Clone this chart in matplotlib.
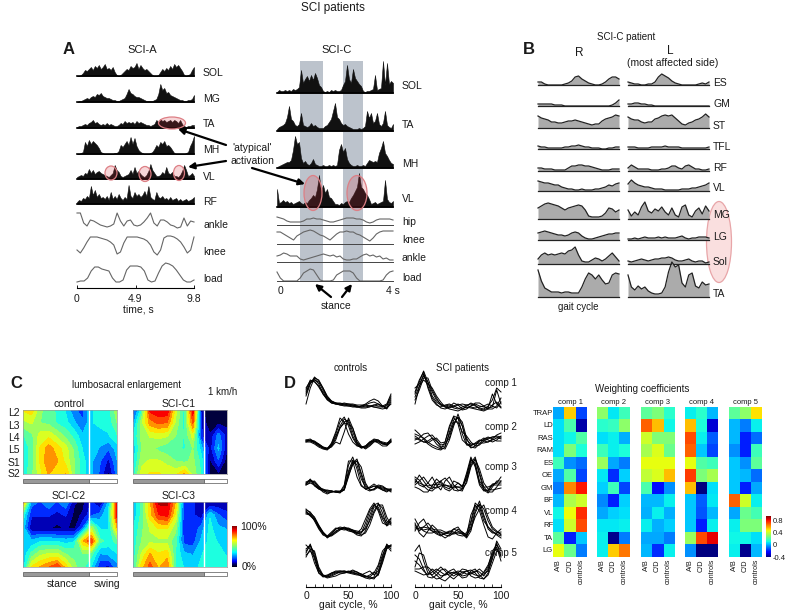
import numpy as np
import matplotlib
matplotlib.use("Agg")
import matplotlib.pyplot as plt
from matplotlib.patches import Ellipse, Rectangle
from matplotlib.cm import ScalarMappable
from matplotlib.colors import Normalize, LinearSegmentedColormap

plt.rcParams['font.family'] = ['Liberation Sans', 'DejaVu Sans']

W, H = 787, 615

# panel A, SCI-A (amplitudes in arbitrary units)
a_sol = [0,0,1,3,6,5,7,9,6,10,8,11,7,9,12,7,8,6,9,4,1,0,1,3,5,7,6,10,8,9,13,7,11,8,6,7,5,3,1,0,0,1,4,7,5,8,6,10,7,12,9,11,8,5,1,0,1,2,6,9]
a_mg = [0,1,1,2,3,4,3,5,6,5,8,7,9,6,5,4,4,3,2,2,1,1,2,3,4,8,13,9,8,6,5,5,4,3,2,1,1,1,1,2,3,8,18,12,14,9,10,7,6,5,4,3,2,2,1,1,2,2,3,7]
a_ta = [1,2,2,3,4,3,5,6,8,5,6,4,3,4,3,5,3,4,3,2,2,3,5,4,7,5,6,5,6,4,7,5,6,5,4,3,3,2,3,4,8,6,9,7,8,6,7,8,6,8,7,5,8,4,2,1,2,2,3,3]
a_mh = [0,0,1,2,12,8,14,10,13,11,9,6,2,1,0,0,0,0,0,1,1,3,9,7,10,13,9,17,10,16,8,4,2,1,0,0,0,1,2,5,9,7,12,10,13,8,9,7,4,1,0,0,0,0,0,1,2,8,12,18]
a_vl = [2,3,4,3,6,5,10,6,9,5,7,8,6,5,4,3,2,4,6,14,9,7,3,2,3,4,5,9,5,12,6,8,5,3,2,4,8,15,9,6,3,3,4,7,5,12,6,5,7,3,3,2,4,8,14,9,3,4,6,3]
a_rf = [2,4,3,6,5,8,6,18,9,14,7,10,6,7,5,8,4,12,5,8,5,10,6,4,7,5,19,8,6,12,8,10,7,9,13,8,18,7,5,4,12,7,6,8,5,6,4,7,4,5,6,3,5,3,4,5,3,4,5,7]
a_ankle = [20,20,10,7,13,12,10,8,7,6,7,9,20,12,7,12,13,8,7,8,11,15,20,10,7,13,13,11,8,7,5,6,15,7,12,11]
a_knee = [5,2,7,13,18,18,18,17,16,15,13,10,1,3,12,18,18,18,18,17,16,14,10,3,0,5,17,19,19,18,16,13,8,2,5,18]
a_load = [1,2,2,5,12,16,16,14,13,12,5,1,1,3,13,17,17,17,16,12,3,1,2,10,17,20,19,17,13,8,3,1,1,3]

# panel A, SCI-C
c_sol = [1,3,2,2,3,2,3,2,4,3,4,6,23,10,14,17,12,18,13,20,15,8,6,2,1,2,1,3,2,3,2,2,3,8,12,28,14,10,24,15,12,9,7,2,1,2,2,3,4,18,3,4,5,32,8,30,9,12,10]
c_ta = [2,4,5,6,8,14,25,12,10,6,5,7,18,6,5,4,5,8,5,6,4,3,3,3,5,6,9,12,20,28,14,12,8,6,7,5,4,3,2,2,2,3,2,3,5,20,13,18,8,10,18,7,5,8,20,6,4,3,7]
c_mh = [1,2,3,4,5,6,6,8,18,32,24,26,10,5,7,4,3,5,9,4,3,2,2,3,2,2,3,2,3,2,3,18,24,16,20,9,5,3,2,2,3,2,2,3,2,5,8,7,6,7,6,15,20,27,15,12,8,5,4]
c_vl = [18,4,5,7,5,6,4,5,3,4,5,6,4,3,5,4,7,9,12,10,18,32,15,22,14,18,10,9,6,3,3,2,4,3,5,6,5,9,12,16,20,34,20,18,14,12,8,3,4,5,3,4,5,6,27,8,5,4,6]
c_hip = [8,7,6,4,3,3,3,3,4,6,6,7,6,6,5,4,3,3,4,5,6,7,7,7,6,6,5,3,2,3,5,6,6,6,6,5]
c_knee = [12,12,10,8,6,4,8,10,12,13,14,13,11,9,8,6,4,7,10,12,12,13,12,12,10,9,7,5,3,6,10,12,13,13,13,13]
c_ankle = [6,7,9,8,6,6,6,3,2,3,4,5,6,7,8,7,6,7,5,6,3,2,2,3,3,5,7,8,6,7,5,6,3,4,2,2]
c_load = [9,3,0,0,0,0,0,3,8,10,12,11,6,1,0,0,0,1,6,8,10,10,10,8,3,0,0,0,0,0,0,0,1,6,9,10]

# panel B, R then L
b_names = ['ES', 'GM', 'ST', 'TFL', 'RF', 'VL', 'MG', 'LG', 'Sol', 'TA']
b_r = {
    'ES': [3,3,1,0,0,0,0,0,1,2,4,8,9,6,4,2,1,0,0,1,3,6,8,8,6],
    'GM': [2,2,2,2,2,1,1,1,0,0,0,0,0,0,0,0,0,0,0,0,0,0,1,3,6],
    'ST': [12,10,9,8,6,6,5,5,6,7,7,8,7,6,5,4,3,4,4,7,9,10,11,13,12],
    'TFL': [3,2,2,1,1,1,1,1,2,2,3,3,4,3,2,2,1,1,1,0,0,1,1,2,2],
    'RF': [3,3,2,2,2,1,1,1,1,3,5,5,6,6,5,5,4,3,2,1,1,1,2,2,2],
    'VL': [10,9,8,8,7,6,6,4,3,2,2,1,1,2,1,1,1,2,2,3,4,6,5,7,8],
    'MG': [11,13,15,16,15,14,13,11,9,11,12,13,14,13,9,3,2,2,2,3,6,11,10,7,9],
    'LG': [7,8,9,8,7,6,5,5,4,5,7,8,7,4,2,1,1,2,3,4,5,6,6,7,7],
    'Sol': [5,9,11,9,10,9,10,11,10,13,14,17,9,3,2,2,4,6,5,3,5,8,11,7,3],
    'TA': [27,16,9,7,5,5,5,4,5,5,4,4,4,10,18,24,22,18,22,17,13,14,22,24,23],
}
b_l = {
    'ES': [3,2,1,1,0,0,1,1,3,8,11,9,7,4,2,1,0,0,0,0,0,1,2,1,3],
    'GM': [2,2,3,3,2,2,1,1,0,0,0,0,0,0,0,0,0,0,0,0,0,0,0,0,0],
    'ST': [11,9,8,8,6,5,6,6,9,10,12,13,12,13,10,7,4,3,5,6,8,9,11,14,11],
    'TFL': [2,2,2,1,1,1,1,2,2,2,2,3,2,2,2,2,1,1,1,1,1,1,1,1,2],
    'RF': [3,6,4,2,2,2,2,1,1,1,2,2,3,5,5,3,2,5,6,4,2,2,1,1,2],
    'VL': [7,11,8,6,5,4,4,3,2,2,2,1,1,1,1,1,2,2,2,3,3,4,5,6,8],
    'MG': [9,3,7,4,12,17,8,6,10,8,12,7,4,11,4,2,12,14,4,2,8,11,5,13,8],
    'LG': [1,1,2,1,2,3,2,2,2,3,2,3,2,2,2,3,4,2,1,2,2,3,3,3,2],
    'Sol': [3,2,3,4,5,4,3,4,5,5,6,6,7,6,4,3,3,4,5,3,2,3,3,1,2],
    'TA': [22,10,7,11,8,10,6,4,3,3,4,10,25,35,30,32,14,10,22,24,11,9,15,12,13],
}
b_base = [85, 106, 128, 149, 171, 191, 219, 240, 264, 297]

# panel C, rows L2..S2
lumbo_rows = ['L2', 'L3', 'L4', 'L5', 'S1', 'S2']
c_control = [[65,68,52,45,42,35,22,20,35,38,40,55],
             [55,58,50,48,42,38,30,22,35,38,38,50],
             [42,48,60,62,55,48,40,30,33,32,35,42],
             [38,45,65,75,68,60,48,35,32,28,22,32],
             [38,45,65,78,72,62,50,38,30,22,12,28],
             [38,48,62,72,65,72,50,38,30,20,5,25]]
c_sci1 = [[15,40,88,92,92,60,40,90,10,0,0,0],
          [25,55,75,80,78,55,40,80,15,0,5,5],
          [35,52,58,60,58,50,42,60,15,8,25,10],
          [30,50,52,48,45,45,42,50,32,10,30,8],
          [32,55,58,58,55,50,48,52,40,5,20,2],
          [38,60,65,65,62,62,72,55,42,3,5,3]]
c_sci2 = [[75,25,20,28,20,28,8,5,15,5,30,92],
          [40,15,15,15,12,15,5,8,20,25,35,90],
          [32,8,8,8,5,8,5,22,55,35,35,70],
          [32,30,35,35,35,32,35,70,85,45,40,45],
          [30,45,55,58,58,50,48,50,45,28,30,35],
          [30,65,72,78,85,68,52,45,35,15,12,25]]
c_sci3 = [[30,45,70,95,95,70,15,15,10,5,8,12],
          [30,45,68,85,88,62,15,15,10,35,22,15],
          [35,48,58,65,65,52,15,15,25,38,30,28],
          [38,50,55,55,55,45,18,18,30,38,35,32],
          [38,58,72,65,68,42,30,28,35,40,38,35],
          [38,68,82,70,78,42,35,32,38,40,40,38]]

# panel D, 0-100 % gait cycle in 5 % steps
d_ctrl_1 = [[18,30,33,28,18,12,9,8,7,7,6,6,5,6,7,9,10,8,5,6,14],
            [22,32,30,26,20,13,9,8,8,8,7,6,5,4,4,5,7,8,6,3,10],
            [8,24,34,32,24,15,10,8,8,7,7,7,6,5,6,6,5,4,3,4,12],
            [20,29,32,30,22,14,11,9,8,9,8,8,7,7,7,6,5,5,5,7,16],
            [16,28,35,31,24,16,11,9,7,6,6,5,5,6,8,11,13,11,6,4,8],
            [24,31,31,25,18,13,10,9,9,8,8,7,6,5,5,6,7,6,6,8,18]]
d_ctrl_2 = [[11,11,10,7,4,3,8,18,30,35,26,14,7,4,5,9,12,11,8,7,12],
            [10,12,10,8,5,3,5,10,8,20,34,24,10,5,6,10,13,12,9,8,11],
            [12,11,9,6,4,3,6,14,26,33,30,16,8,4,5,8,12,12,9,7,10],
            [11,12,11,8,5,4,7,16,24,30,32,20,9,5,4,7,11,10,8,8,13],
            [10,10,8,5,3,2,6,12,24,29,28,24,12,6,3,6,10,11,10,9,11],
            [12,13,10,7,4,3,9,20,34,30,18,10,6,5,6,10,11,9,6,6,10]]
d_ctrl_3 = [[11,16,10,6,4,3,3,3,3,8,30,38,26,10,6,7,9,7,5,4,5],
            [12,14,12,8,5,4,4,3,3,5,18,32,36,22,10,5,6,9,8,6,6],
            [10,13,14,9,5,2,3,4,4,6,24,35,30,16,8,7,9,8,6,5,4],
            [13,15,9,6,5,5,4,3,2,6,22,33,34,20,6,4,6,10,9,6,3],
            [11,15,13,7,3,1,3,4,3,10,34,34,18,9,6,8,11,8,5,3,6],
            [10,12,10,7,6,4,4,3,3,5,20,30,34,28,12,5,5,8,7,6,5]]
d_ctrl_4 = [[30,26,22,14,8,4,8,12,13,12,10,9,8,12,22,32,38,30,18,16,22],
            [28,27,20,12,6,4,7,12,14,13,12,10,9,8,14,26,36,38,28,16,20],
            [32,28,24,16,9,3,6,10,12,14,12,10,7,8,18,30,36,32,22,15,18],
            [29,25,21,13,7,5,9,13,12,11,12,11,10,9,12,20,30,37,33,20,18],
            [31,29,23,15,8,4,6,9,12,13,11,9,6,5,10,22,34,34,24,18,23],
            [27,26,22,15,9,5,5,8,11,13,13,11,8,6,8,16,28,36,36,24,16]]
d_ctrl_5 = [[28,37,25,10,5,4,6,8,9,10,9,8,7,5,3,2,4,14,26,36,34],
            [24,32,30,14,6,4,5,7,9,9,10,9,7,5,4,6,9,6,20,34,36],
            [36,32,18,8,5,6,8,10,10,9,8,7,6,6,8,10,6,10,24,37,32],
            [30,35,28,12,5,3,4,5,7,8,9,10,9,7,5,3,2,8,22,33,35],
            [26,30,24,11,6,5,7,9,10,10,9,8,8,7,5,4,8,16,30,35,30],
            [32,36,22,8,4,5,8,9,8,8,9,11,9,6,4,4,3,6,18,32,36]]
d_sci_1 = [[18,30,41,30,16,10,7,5,4,6,8,6,4,6,8,6,5,4,5,22,8],
           [8,25,38,26,14,8,4,3,5,9,7,3,6,9,7,3,2,4,18,8,4],
           [24,28,36,30,20,12,8,6,5,5,7,8,7,5,4,5,6,8,6,4,10],
           [12,22,34,34,22,14,7,6,7,4,3,5,7,8,6,4,3,6,12,24,20],
           [20,32,40,24,12,7,5,7,8,6,4,2,3,6,9,9,6,3,3,6,14],
           [15,26,32,28,24,16,10,5,3,2,1,3,5,4,3,2,1,3,7,10,5]]
d_sci_2 = [[14,12,10,9,12,14,9,10,24,35,28,12,8,7,8,11,12,14,15,16,15],
           [18,16,14,10,7,5,3,10,26,36,34,18,7,6,9,12,11,10,12,14,14],
           [8,10,13,16,17,12,5,6,18,28,35,30,14,5,4,8,13,15,13,11,11],
           [22,18,13,8,5,3,2,5,20,32,34,26,12,8,8,9,9,10,13,17,19],
           [12,14,18,19,14,8,4,3,12,26,38,26,9,4,6,11,14,12,10,12,16],
           [16,13,10,11,14,11,7,8,14,30,30,20,16,10,6,7,11,13,15,15,13]]
d_sci_3 = [[12,20,14,8,6,12,14,8,6,14,12,8,18,36,30,12,6,4,10,12,18],
           [16,10,8,12,18,10,5,14,18,10,5,4,14,30,36,20,5,2,8,14,14],
           [10,14,18,12,8,7,9,10,8,7,8,6,20,35,32,14,8,8,10,10,10],
           [8,6,3,3,9,16,12,6,4,8,12,9,16,32,38,22,8,3,3,8,14],
           [14,12,10,9,10,11,10,10,9,9,8,8,22,38,28,10,4,5,11,12,12],
           [18,15,9,5,4,8,14,17,12,5,4,6,12,28,36,26,12,6,5,6,7]]
d_sci_4 = [[16,10,14,18,13,8,6,7,9,12,10,7,8,20,38,34,20,14,10,6,3],
           [22,14,10,8,8,10,9,6,5,8,12,9,5,14,30,40,26,14,9,7,5],
           [10,18,22,14,10,7,5,8,10,9,6,5,6,26,36,30,16,4,2,8,12],
           [14,12,11,12,10,9,8,8,7,7,8,7,3,10,28,37,32,20,12,9,7],
           [18,8,4,10,16,12,6,3,6,12,14,8,4,18,34,36,24,12,8,8,9],
           [12,13,14,13,12,11,11,9,8,8,9,9,6,12,24,32,36,24,14,10,6]]
d_sci_5 = [[30,36,20,8,6,10,14,10,5,2,6,9,10,8,6,5,7,10,22,38,24],
           [14,28,26,12,5,2,3,7,9,8,6,7,10,11,8,3,2,6,18,30,28],
           [12,12,14,14,10,6,2,0,4,8,10,9,7,8,10,9,5,12,26,34,20],
           [20,16,10,6,9,12,9,6,7,9,8,5,6,7,9,12,8,14,30,36,30],
           [10,8,6,7,12,9,5,6,10,12,7,3,4,10,12,6,2,8,24,40,32],
           [26,22,12,4,3,6,11,12,8,5,8,12,11,5,3,4,9,16,28,32,26]]
d_rows = ['comp 1', 'comp 2', 'comp 3', 'comp 4', 'comp 5']

# weighting coefficients, A/B, C/D, controls
w_muscles = ['TRAP', 'LD', 'RAS', 'RAM', 'ES', 'OE', 'GM', 'BF', 'VL', 'RF', 'TA', 'LG']
w_groups = ['A/B', 'C/D', 'controls']
w_comp1 = [[-.02,.5,-.15],[.05,.17,-.35],[.05,.08,.18],[.05,.25,.1],[.15,-.05,-.1],[-.02,.18,-.15],
           [-.08,.6,.75],[0,.33,.38],[.08,.43,.72],[.05,.38,.68],[.2,-.2,.02],[.42,.22,-.08]]
w_comp2 = [[.28,.06,.15],[.12,.14,.28],[.05,.07,-.01],[.15,.07,.1],[.3,-.02,-.08],[.06,-.18,.03],
           [.03,.15,-.15],[-.06,-.2,.03],[-.02,.03,.05],[.06,.06,.07],[.07,-.38,-.08],[.07,.5,.62]]
w_comp3 = [[.2,.25,.12],[.65,.52,.08],[.38,.26,.26],[.32,.4,.22],[.42,.42,.42],[.36,.4,.52],
           [.17,-.22,-.05],[0,0,.07],[-.01,.07,-.01],[.07,-.01,.03],[-.02,-.02,-.08],[0,-.18,.07]]
w_comp4 = [[.07,.12,0],[.52,.1,-.3],[.68,.07,-.12],[.65,.02,-.15],[.42,.18,.15],[.7,.25,.32],
           [.52,-.4,.05],[.02,-.12,.06],[.02,-.13,0],[.02,-.2,.07],[.3,.68,.78],[-.05,-.45,-.4]]
w_comp5 = [[.2,.28,.47],[0,-.08,.07],[0,-.2,-.1],[-.05,-.2,.15],[.02,-.05,.2],[.02,0,-.1],
           [.02,-.2,-.02],[.65,.38,.07],[-.02,.22,.16],[.07,.25,.25],[.08,.08,.05],[.07,-.38,0]]

# jet, running into near black at the bottom
jet2 = LinearSegmentedColormap.from_list('jet2', [(0, '#000010'), (0.07, '#00006a'), (0.14, '#0000ff'),
                                                  (0.36, '#00ffff'), (0.5, '#7dff7a'), (0.65, '#ffff00'),
                                                  (0.89, '#ff0000'), (1, '#800000')])

fig = plt.figure(figsize=(W / 100, H / 100), dpi=100)


def px_axes(x0, y0, x1, y1, z=1):
    ax = fig.add_axes([x0 / W, 1 - y1 / H, (x1 - x0) / W, (y1 - y0) / H], zorder=z)
    ax.patch.set_alpha(0)
    return ax


def strip(x0, x1, base, height):
    # one y unit is one pixel above the baseline
    ax = px_axes(x0, base - height, x1, base)
    ax.set_ylim(0, height)
    ax.set_xlim(0, 1)
    ax.axis('off')
    return ax


def emg(x0, x1, base, values):
    ax = strip(x0, x1, base, 40)
    x = np.linspace(0, 1, len(values))
    ax.fill_between(x, values, 0, color='#111111', lw=0.4)
    ax.plot([0, 1], [0, 0], color='k', lw=1.2, clip_on=False)


def line(x0, x1, base, values, rule=False):
    ax = strip(x0, x1, base, 25)
    ax.plot(np.linspace(0, 1, len(values)), values, color='#666666', lw=0.8, clip_on=False)
    if rule:
        ax.plot([0, 1], [0, 0], color='#444444', lw=0.7, clip_on=False)


# background and foreground in picture pixels, for bands, notes and labels
bg = px_axes(0, 0, W, H, z=0)
bg.set_xlim(0, W)
bg.set_ylim(H, 0)
bg.axis('off')
top = px_axes(0, 0, W, H, z=5)
top.set_xlim(0, W)
top.set_ylim(H, 0)
top.axis('off')


def txt(x, y, s, size=7.5, ha='left', **kw):
    top.text(x, y, s, fontsize=size, ha=ha, va='center', color='#1a1a1a', **kw)


def note(xy_from, xy_to, lw=1.6):
    top.annotate('', xy=xy_to, xytext=xy_from,
                 arrowprops=dict(arrowstyle='-|>', color='k', lw=lw, mutation_scale=9, shrinkA=0, shrinkB=0))


def oval(cx, cy, w, h, ax=top, face=(0.85, 0.2, 0.25, 0.2), edge='#dd7f85'):
    ax.add_patch(Ellipse((cx, cy), w, h, facecolor=face, edgecolor=edge, lw=0.9))


txt(333, 8, 'SCI patients', 8.5, 'center')

# A
txt(69, 50, 'A', 12, 'center', fontweight='bold')
txt(142, 50, 'SCI-A', 8, 'center')
for vals, base in zip([a_sol, a_mg, a_ta, a_mh, a_vl, a_rf], [76, 102, 128, 154, 179, 204]):
    emg(77, 194, base, vals)
line(77, 194, 233, a_ankle)
line(77, 194, 255, a_knee)
line(77, 194, 283, a_load)
for name, y in zip(['SOL', 'MG', 'TA', 'MH', 'VL', 'RF', 'ankle', 'knee', 'load'],
                   [73, 99, 124, 150, 177, 202, 225, 252, 279]):
    txt(203, y, name)
oval(172, 123, 27, 12)
oval(111, 173, 12, 14)
oval(145, 174, 12, 15)
oval(179, 173, 11, 15)

ax_a = px_axes(77, 270, 194, 288)
ax_a.set_xlim(0, 9.8)
for s in ['top', 'left', 'right']:
    ax_a.spines[s].set_visible(False)
ax_a.set_yticks([])
ax_a.set_xticks([0, 4.9, 9.8], ['0', '4.9', '9.8'])
ax_a.tick_params(axis='x', direction='in', length=2, width=0.7, labelsize=7.5, pad=4, colors='#1a1a1a')
txt(138, 309, 'time, s', 7.5, 'center')

txt(252, 148, "'atypical'", 7.5, 'center')
txt(252, 161, 'activation', 7.5, 'center')
note((226, 145), (178, 129))
note((226, 161), (188, 167))
note((252, 168), (305, 184))

# SCI-C
txt(337, 50, 'SCI-C', 8, 'center')
bg.add_patch(Rectangle((300, 61), 23, 220, color='#bcc3cc', lw=0))
bg.add_patch(Rectangle((343, 61), 20, 220, color='#bcc3cc', lw=0))
for vals, base in zip([c_sol, c_ta, c_mh, c_vl], [93, 131, 168, 207]):
    emg(277, 393, base, vals)
line(277, 393, 225, c_hip, True)
line(277, 393, 244, c_knee, True)
line(277, 393, 262, c_ankle, True)
line(277, 393, 281, c_load, True)
for name, y in zip(['SOL', 'TA', 'MH', 'VL', 'hip', 'knee', 'ankle', 'load'],
                   [86, 125, 164, 199, 222, 240, 258, 278]):
    txt(402, y, name)
oval(313, 193, 18, 35)
oval(357, 193, 20, 35)
txt(280, 291, '0', 7.5, 'center')
txt(393, 291, '4 s', 7.5, 'center')
note((331, 297), (315, 284))
note((342, 297), (352, 284))
txt(336, 306, 'stance', 7.5, 'center')

# B
txt(626, 37, 'SCI-C patient', 7, 'center')
txt(529, 50, 'B', 12, 'center', fontweight='bold')
txt(579, 53, 'R', 8.5, 'center')
txt(670, 51, 'L', 8.5, 'center')
txt(673, 63, '(most affected side)', 7.5, 'center')
txt(578, 307, 'gait cycle', 7, 'center')
oval(719, 242, 25, 81, ax=bg, face='#fadfdf', edge='#e8a5a8')
for name, base, ly in zip(b_names, b_base, [83, 104, 126, 147, 168, 188, 215, 237, 262, 294]):
    for vals, x0, x1 in [(b_r[name], 538, 619), (b_l[name], 628, 709)]:
        ax = strip(x0, x1, base, 36)
        x = np.linspace(0, 1, len(vals))
        ax.fill_between(x, vals, 0, color='#ababab', lw=0)
        ax.plot(x, vals, color='#222222', lw=0.9, clip_on=False)
        ax.plot([0, 1], [0, 0], color='#222222', lw=0.9, clip_on=False)
    txt(713, ly, name)

# C
txt(16, 384, 'C', 12, 'center', fontweight='bold')
txt(127, 385, 'lumbosacral enlargement', 7, 'center')
txt(223, 392, '1 km/h', 7, 'center')
maps = [(c_control, 23, 410, 117, 474, 89, 'control'), (c_sci1, 133, 410, 227, 474, 204, 'SCI-C1'),
        (c_sci2, 23, 502, 117, 567, 89, 'SCI-C2'), (c_sci3, 133, 502, 227, 567, 204, 'SCI-C3')]
for grid, x0, y0, x1, y1, split, name in maps:
    ax = px_axes(x0, y0, x1, y1)
    ax.contourf(np.linspace(0, 1, 12), np.arange(6), np.array(grid), levels=np.linspace(0, 100, 15),
                cmap=jet2, vmin=0, vmax=100)
    ax.invert_yaxis()
    ax.set_xticks([])
    ax.set_yticks([])
    for s in ax.spines.values():
        s.set_color('#999999')
        s.set_linewidth(0.5)
    ax.axvline((split - x0) / (x1 - x0), color='white', lw=1)
    txt((x0 + x1) / 2 - 1, y0 - 6, name, 7.5, 'center')
    by = y1 + 5
    bg.add_patch(Rectangle((x0, by), split - x0, 4, facecolor='#999999', edgecolor='#555555', lw=0.5))
    bg.add_patch(Rectangle((split, by), x1 - split, 4, facecolor='white', edgecolor='#555555', lw=0.5))
for name, y in zip(lumbo_rows, [413, 426, 438, 450, 463, 474]):
    txt(8, y, name, 7.5)
txt(62, 584, 'stance', 7.5, 'center')
txt(107, 584, 'swing', 7.5, 'center')
cax = px_axes(232, 526, 237, 567)
fig.colorbar(ScalarMappable(Normalize(0, 100), jet2), cax=cax, ticks=[])
cax.patch.set_alpha(1)
cax.spines['outline'].set_visible(False)
txt(240, 527, '100%', 7.5)
txt(242, 567, '0%', 7.5)

# D
txt(290, 383, 'D', 12, 'center', fontweight='bold')
txt(351, 368, 'controls', 7, 'center')
txt(462, 368, 'SCI patients', 7, 'center')
d_base = [412, 452, 495, 541, 581]
d_ctrl = [d_ctrl_1, d_ctrl_2, d_ctrl_3, d_ctrl_4, d_ctrl_5]
d_sci = [d_sci_1, d_sci_2, d_sci_3, d_sci_4, d_sci_5]
for group, x0, x1 in [(d_ctrl, 306, 391), (d_sci, 415, 501)]:
    for curves, base in zip(group, d_base):
        ax = strip(x0, x1, base, 40)
        ax.set_xlim(0, 100)
        for c in curves:
            ax.plot(np.arange(0, 101, 5), c, color='k', lw=0.7, clip_on=False)
    ax = px_axes(x0, 570, x1, 587)
    ax.set_xlim(0, 100)
    for s in ['top', 'left', 'right']:
        ax.spines[s].set_visible(False)
    ax.set_yticks([])
    ax.set_xticks([0, 50, 100])
    ax.set_xticks(np.arange(0, 101, 10), minor=True)
    ax.tick_params(axis='x', which='both', direction='in', length=2, width=0.6, labelsize=7.5, pad=3, colors='#1a1a1a')
    txt((x0 + x1) / 2, 605, 'gait cycle, %', 7.5, 'center')
for name, y in zip(d_rows, [383, 427, 467, 511, 553]):
    txt(485, y, name, 7)

# weighting coefficients
txt(642, 389, 'Weighting coefficients', 7, 'center')
for i, (vals, x0, x1) in enumerate([(w_comp1, 553, 587), (w_comp2, 597, 630), (w_comp3, 641, 674),
                                    (w_comp4, 685, 718), (w_comp5, 729, 762)]):
    ax = px_axes(x0, 407, x1, 557)
    ax.imshow(np.array(vals), cmap='jet', vmin=-0.4, vmax=0.9, aspect='auto', interpolation='nearest')
    ax.axis('off')
    txt((x0 + x1) / 2, 403, 'comp %d' % (i + 1), 5.5, 'center')
    for k, g in enumerate(w_groups):
        top.text(x0 + (x1 - x0) * (k + 0.5) / 3, 559, g, fontsize=5.2, rotation=90, ha='center', va='top', color='#1a1a1a')
for k, m in enumerate(w_muscles):
    txt(553, 407 + 12.5 * (k + 0.5), m, 5.5, 'right')
wax = px_axes(766, 516, 771, 557)
cb = fig.colorbar(ScalarMappable(Normalize(-0.4, 0.93), 'jet'), cax=wax, ticks=[-0.4, 0, 0.4, 0.8])
cb.ax.set_yticklabels(['-0.4', '0', '0.4', '0.8'])
cb.ax.tick_params(labelsize=5.5, length=0, pad=1, colors='#1a1a1a')
cb.outline.set_visible(False)
wax.patch.set_alpha(1)

fig.savefig('out.png', dpi=100)
